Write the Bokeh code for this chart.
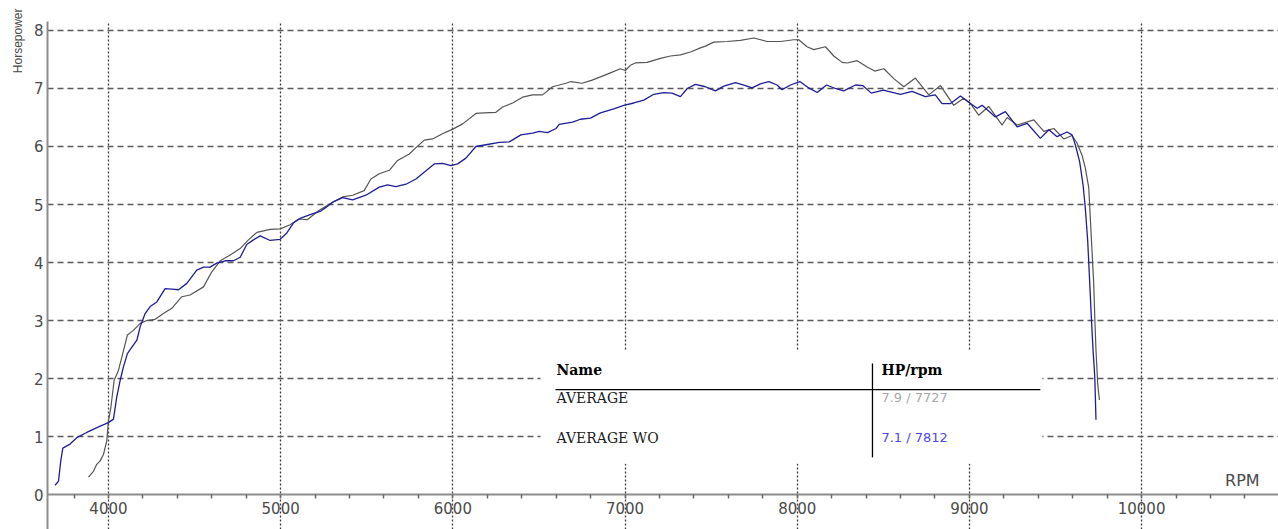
from bokeh.plotting import figure
from bokeh.models import FixedTicker, Label, BoxAnnotation, Title
from bokeh.embed import file_html
from bokeh.resources import INLINE

# ---------------- data ----------------
rpm_avg = [3884, 3913, 3932, 3952, 3971, 3990, 4000, 4014, 4033, 4058, 4083, 4110, 4145, 4184,
           4223, 4271, 4319, 4368, 4426, 4474, 4552, 4600, 4649, 4707, 4765, 4813, 4862, 4939,
           4997, 5055, 5104, 5156, 5224, 5302, 5360, 5418, 5485, 5524, 5573, 5631, 5679, 5747,
           5786, 5834, 5882, 5940, 6000, 6057, 6134, 6182, 6250, 6289, 6347, 6405, 6463, 6521,
           6579, 6657, 6686, 6750, 6805, 6857, 6915, 6973, 7002, 7031, 7060, 7128, 7206, 7264,
           7322, 7380, 7438, 7467, 7515, 7593, 7670, 7748, 7825, 7903, 7980, 8009, 8057, 8096,
           8164, 8212, 8261, 8290, 8348, 8406, 8450, 8503, 8561, 8619, 8686, 8764, 8832, 8909,
           8967, 9006, 9054, 9112, 9190, 9219, 9277, 9374, 9432, 9490, 9548, 9596, 9625, 9654,
           9673, 9693, 9702, 9712, 9722, 9728, 9735, 9745, 9755]
hp_avg = [0.30, 0.40, 0.52, 0.58, 0.69, 0.92, 1.27, 1.50, 1.97, 2.14, 2.43, 2.75, 2.83, 2.95,
          3.00, 3.02, 3.12, 3.21, 3.41, 3.44, 3.58, 3.84, 4.03, 4.13, 4.24, 4.39, 4.52, 4.57,
          4.58, 4.65, 4.75, 4.74, 4.90, 5.04, 5.13, 5.16, 5.24, 5.44, 5.53, 5.59, 5.76, 5.87,
          5.98, 6.11, 6.13, 6.22, 6.30, 6.39, 6.57, 6.58, 6.59, 6.68, 6.75, 6.85, 6.89, 6.89,
          7.03, 7.09, 7.12, 7.09, 7.14, 7.20, 7.27, 7.34, 7.31, 7.40, 7.44, 7.45, 7.52, 7.56,
          7.58, 7.63, 7.70, 7.73, 7.80, 7.81, 7.83, 7.87, 7.81, 7.81, 7.84, 7.84, 7.72, 7.67,
          7.72, 7.56, 7.45, 7.44, 7.48, 7.37, 7.30, 7.34, 7.17, 7.03, 7.18, 6.89, 7.05, 6.71,
          6.83, 6.74, 6.54, 6.69, 6.37, 6.50, 6.37, 6.46, 6.26, 6.31, 6.13, 6.19, 6.06, 5.85,
          5.63, 5.29, 4.77, 4.20, 3.63, 3.06, 2.49, 1.91, 1.63]

rpm_wo = [3690, 3710, 3723, 3735, 3777, 3816, 3874, 3952, 4000, 4029, 4048, 4068, 4087, 4110,
          4136, 4165, 4184, 4213, 4242, 4281, 4329, 4368, 4407, 4455, 4513, 4552, 4590, 4629,
          4678, 4726, 4765, 4803, 4842, 4881, 4939, 4997, 5036, 5074, 5113, 5175, 5229, 5263,
          5302, 5360, 5418, 5495, 5573, 5621, 5669, 5728, 5786, 5844, 5892, 5940, 5989, 6028,
          6076, 6134, 6192, 6270, 6328, 6395, 6463, 6502, 6550, 6599, 6618, 6695, 6741, 6799,
          6857, 6935, 6993, 7051, 7109, 7167, 7225, 7273, 7322, 7361, 7409, 7467, 7525, 7574,
          7641, 7690, 7738, 7786, 7835, 7883, 7912, 7961, 8015, 8067, 8116, 8170, 8222, 8270,
          8338, 8380, 8430, 8500, 8599, 8667, 8744, 8802, 8841, 8890, 8948, 9006, 9045, 9074,
          9151, 9209, 9277, 9335, 9412, 9461, 9509, 9567, 9596, 9615, 9640, 9660, 9673, 9687,
          9699, 9708, 9718, 9728, 9735]
hp_wo = [0.16, 0.23, 0.58, 0.80, 0.87, 0.98, 1.07, 1.18, 1.24, 1.30, 1.68, 1.97, 2.20, 2.43,
         2.54, 2.66, 2.89, 3.12, 3.24, 3.32, 3.55, 3.54, 3.53, 3.64, 3.87, 3.92, 3.92, 3.99,
         4.03, 4.03, 4.09, 4.31, 4.39, 4.46, 4.38, 4.40, 4.51, 4.68, 4.76, 4.83, 4.88, 4.95,
         5.04, 5.12, 5.08, 5.16, 5.30, 5.34, 5.31, 5.35, 5.44, 5.58, 5.70, 5.71, 5.67, 5.70,
         5.80, 6.00, 6.03, 6.07, 6.08, 6.20, 6.23, 6.26, 6.24, 6.31, 6.38, 6.42, 6.47, 6.49,
         6.58, 6.65, 6.71, 6.75, 6.80, 6.90, 6.93, 6.92, 6.86, 7.00, 7.07, 7.03, 6.96, 7.04,
         7.10, 7.06, 7.01, 7.08, 7.12, 7.06, 6.98, 7.06, 7.12, 7.01, 6.93, 7.06, 7.00, 6.96,
         7.06, 7.05, 6.92, 6.97, 6.90, 6.95, 6.86, 6.89, 6.74, 6.74, 6.87, 6.74, 6.66, 6.71,
         6.51, 6.60, 6.34, 6.40, 6.14, 6.29, 6.17, 6.25, 6.20, 6.03, 5.74, 5.34, 4.94, 4.37,
         3.63, 3.06, 2.49, 2.03, 1.29]

x_major_ticks = [4000, 5000, 6000, 7000, 8000, 9000, 10000]
x_minor_ticks = [3800, 4200, 4400, 4600, 4800, 5200, 5400, 5600, 5800, 6200, 6400, 6600, 6800,
                 7200, 7400, 7600, 7800, 8200, 8400, 8600, 8800, 9200, 9400, 9600, 9800,
                 10200, 10400, 10600]
y_ticks = [0, 1, 2, 3, 4, 5, 6, 7, 8]
y_grid_ticks = [1, 2, 3, 4, 5, 6, 7, 8]

series_names = ["AVERAGE", "AVERAGE WO"]
series_peaks = ["7.9 / 7727", "7.1 / 7812"]
series_colors = ["#555555", "#1e1e96"]
peak_colors = ["#a8a8a8", "#4b4bf0"]

# ---------------- figure ----------------
X0, X1 = 3646, 10795
Y0, Y1 = -0.603, 8.155
p = figure(width=1278, height=529, x_range=(X0, X1), y_range=(Y0, Y1),
           output_backend="svg", toolbar_location=None,
           min_border_left=47, min_border_right=0, min_border_top=21, min_border_bottom=0)
p.outline_line_color = None
p.background_fill_color = "white"
p.border_fill_color = "white"

AX_FONT = "DejaVu Sans"
AX_COLOR = "#4a4a4a"

p.xaxis.fixed_location = 0
p.xaxis.ticker = FixedTicker(ticks=x_major_ticks, minor_ticks=x_minor_ticks)
p.xaxis.axis_line_color = "#8c8c8c"
p.xaxis.axis_line_width = 2
p.xaxis.major_tick_line_color = "#6a6a6a"
p.xaxis.major_tick_line_width = 1.5
p.xaxis.major_tick_in = 0
p.xaxis.major_tick_out = 4
p.xaxis.minor_tick_line_color = "#6a6a6a"
p.xaxis.minor_tick_line_width = 1.5
p.xaxis.minor_tick_in = 0
p.xaxis.minor_tick_out = 4
p.xaxis.major_label_standoff = 3
p.xaxis.major_label_text_font = AX_FONT
p.xaxis.major_label_text_font_size = "15px"
p.xaxis.major_label_text_color = AX_COLOR

p.yaxis.ticker = FixedTicker(ticks=y_ticks, minor_ticks=[])
p.yaxis.axis_line_color = "#8c8c8c"
p.yaxis.axis_line_width = 2
p.yaxis.major_tick_line_color = None
p.yaxis.major_tick_in = 0
p.yaxis.major_tick_out = 0
p.yaxis.minor_tick_line_color = None
p.yaxis.major_label_standoff = 4
p.yaxis.major_label_text_font = AX_FONT
p.yaxis.major_label_text_font_size = "15px"
p.yaxis.major_label_text_color = AX_COLOR

p.add_layout(Title(text="Horsepower", align="right", offset=-13, standoff=12,
                   text_font="Liberation Sans", text_font_size="12px",
                   text_font_style="normal", text_color=AX_COLOR), "left")

p.xgrid.ticker = FixedTicker(ticks=x_major_ticks)
p.xgrid.grid_line_color = "#3a3a3a"
p.xgrid.grid_line_dash = "2 2"
p.xgrid.grid_line_width = 1.3
p.ygrid.ticker = FixedTicker(ticks=y_grid_ticks)
p.ygrid.grid_line_color = "#5a5a5a"
p.ygrid.grid_line_dash = "6 4"
p.ygrid.grid_line_width = 1.3

# curves
p.line(rpm_avg, hp_avg, line_color=series_colors[0], line_width=1.2)
p.line(rpm_wo, hp_wo, line_color=series_colors[1], line_width=1.3)

# x axis title at the right end of the axis
p.add_layout(Label(x=10585, y=0.07, text="RPM", text_align="center", text_baseline="bottom",
                   text_font=AX_FONT, text_font_size="16px", text_color=AX_COLOR))

# ---------------- peak table ----------------
p.add_layout(BoxAnnotation(left=6509, right=9424, bottom=0.53, top=2.48,
                           fill_color="white", fill_alpha=1.0, line_alpha=0.0,
                           level="underlay"))
p.segment(x0=[6596, 8437], y0=[1.81, 2.26], x1=[9412, 8437], y1=[1.81, 0.64],
          line_color="black", line_width=1.3)

COL1, COL2 = 6602, 8489
ROW_Y = [1.67, 0.98]
TBL_FONT = "DejaVu Serif"
p.add_layout(Label(x=COL1, y=2.14, text="Name", text_baseline="middle", text_font=TBL_FONT,
                   text_font_size="14px", text_font_style="bold", text_color="black"))
p.add_layout(Label(x=COL2, y=2.14, text="HP/rpm", text_baseline="middle", text_font=TBL_FONT,
                   text_font_size="14px", text_font_style="bold", text_color="black"))
for name, peak, pc, yy in zip(series_names, series_peaks, peak_colors, ROW_Y):
    p.add_layout(Label(x=COL1, y=yy, text=name, text_baseline="middle", text_font=TBL_FONT,
                       text_font_size="14px", text_color="#1a1a1a"))
    p.add_layout(Label(x=COL2, y=yy, text=peak, text_baseline="middle", text_font="DejaVu Sans",
                       text_font_size="13px", text_color=pc))

open("out.html", "w").write(file_html(p, INLINE))
